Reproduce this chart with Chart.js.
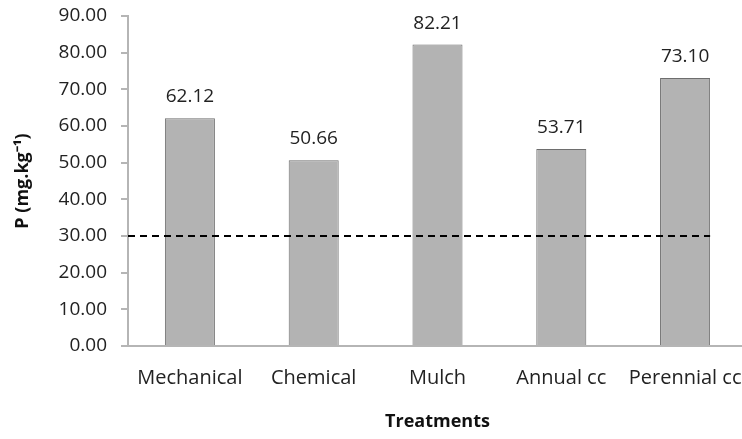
<!DOCTYPE html>
<html>
<head>
<meta charset="utf-8">
<script src="https://cdn.jsdelivr.net/npm/chart.js@4"></script>
<style>
  html, body { margin: 0; padding: 0; background: #fff; overflow: hidden; }
  .chart-box { width: 748px; height: 439px; }
</style>
</head>
<body>
<div class="chart-box"><canvas id="pChart"></canvas></div>
<script>
const treatments = ['Mechanical', 'Chemical', 'Mulch', 'Annual cc', 'Perennial cc'];
const pValues = [62.12, 50.66, 82.21, 53.71, 73.10];
const yTicks = [0, 10, 20, 30, 40, 50, 60, 70, 80, 90];
const criticalLevel = 30;

Chart.defaults.font.family = "'Open Sans', sans-serif";
Chart.defaults.color = '#222';

// value above each bar
const barValues = {
  id: 'barValues',
  afterDatasetsDraw(chart) {
    const ctx = chart.ctx;
    const meta = chart.getDatasetMeta(0);
    ctx.save();
    ctx.font = "19px 'Open Sans', sans-serif";
    ctx.fillStyle = '#222';
    ctx.textAlign = 'center';
    ctx.textBaseline = 'alphabetic';
    meta.data.forEach((bar, i) => {
      ctx.fillText(pValues[i].toFixed(2), bar.x, bar.y - 16);
    });
    ctx.restore();
  },
};

// dashed reference line at the critical level
const refLine = {
  id: 'refLine',
  afterDatasetsDraw(chart) {
    const ctx = chart.ctx;
    const y = chart.scales.y.getPixelForValue(criticalLevel);
    const bars = chart.getDatasetMeta(0).data;
    const last = bars[bars.length - 1];
    ctx.save();
    ctx.strokeStyle = '#000';
    ctx.lineWidth = 2;
    ctx.setLineDash([7, 5]);
    ctx.beginPath();
    ctx.moveTo(chart.chartArea.left, y);
    ctx.lineTo(last.x + last.width / 2, y);
    ctx.stroke();
    ctx.restore();
  },
};

new Chart(document.getElementById('pChart'), {
  type: 'bar',
  data: {
    labels: treatments,
    datasets: [
      {
        data: pValues,
        backgroundColor: '#b3b3b3',
        borderColor: '#6e6e6e',
        borderWidth: 1,
        categoryPercentage: 1,
        barPercentage: 0.404,
      },
    ],
  },
  options: {
    responsive: true,
    maintainAspectRatio: false,
    animation: false,
    layout: {
      padding: { top: 16, right: 1, bottom: 0, left: 0 },
    },
    plugins: {
      legend: { display: false },
      tooltip: { enabled: false },
    },
    scales: {
      x: {
        grid: { display: false, drawTicks: false },
        border: { display: true, color: '#b5b5b5', width: 2 },
        ticks: {
          padding: 20,
          font: { size: 20 },
          maxRotation: 0,
        },
        title: {
          display: true,
          text: 'Treatments',
          font: { size: 18, weight: 'bold' },
          padding: { top: 0, bottom: 6 },
          color: '#111',
        },
        afterFit(scale) {
          scale.height = 93;
          scale.paddingLeft = 0;
          scale.paddingRight = 0;
        },
      },
      y: {
        min: 0,
        max: 90,
        afterBuildTicks(scale) {
          scale.ticks = yTicks.map((v) => ({ value: v }));
        },
        grid: {
          drawOnChartArea: false,
          drawTicks: true,
          tickLength: 7,
          color: '#b5b5b5',
          lineWidth: 2,
        },
        border: { display: true, color: '#b5b5b5', width: 2 },
        ticks: {
          padding: 14,
          font: { size: 19 },
          callback: (v) => Number(v).toFixed(2),
        },
        title: {
          display: true,
          text: 'P (mg.kg\u207B\u00B9)',
          font: { size: 18, weight: 'bold' },
          padding: { top: 12, bottom: 0 },
          color: '#111',
        },
        afterFit(scale) {
          scale.width = 128;
          scale.paddingTop = 0;
          scale.paddingBottom = 0;
        },
      },
    },
  },
  plugins: [refLine, barValues],
});
</script>
</body>
</html>
